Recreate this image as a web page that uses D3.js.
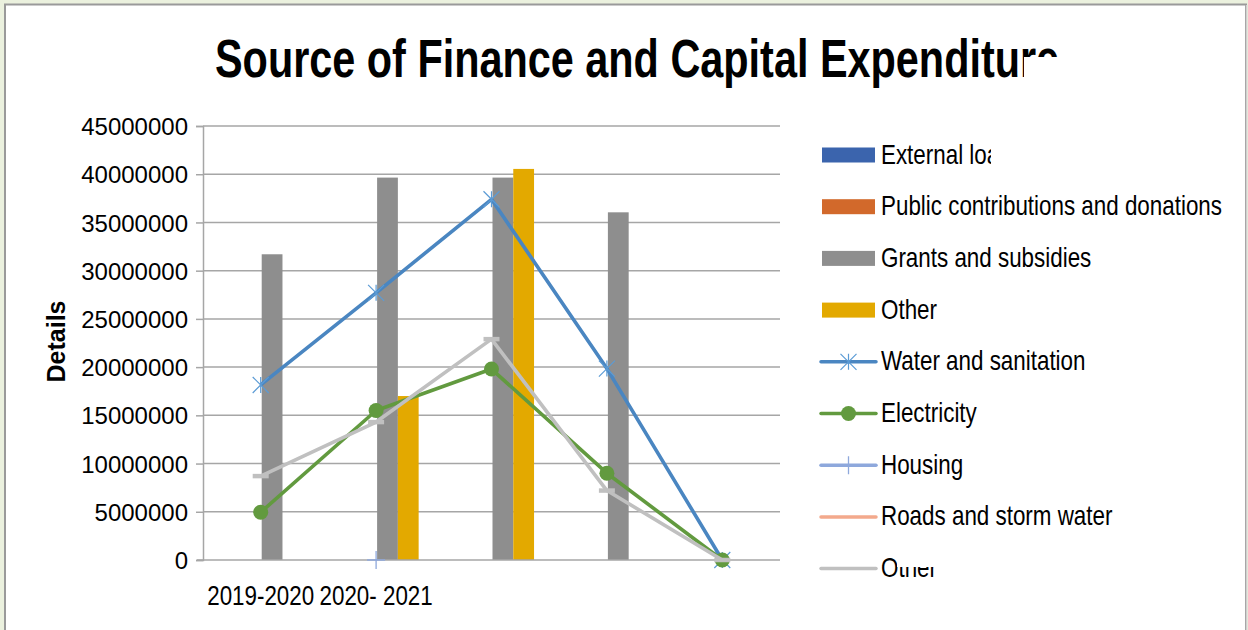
<!DOCTYPE html>
<html>
<head>
<meta charset="utf-8">
<script src="https://cdn.jsdelivr.net/npm/d3@7"></script>
<style>
  html, body { margin: 0; padding: 0; background: #ebf1de; }
  svg { display: block; }
  text { font-family: "Liberation Sans", Arial, sans-serif; fill: #000; }
</style>
</head>
<body>
<svg id="chart" width="1248" height="630"></svg>
<script>
// ---- data ----
const categories = ["2019-2020", "2020- 2021", "", "", ""];
const externalLoans = [0, 0, 0, 0, 0];
const publicContributions = [0, 0, 0, 0, 0];
const grantsSubsidies = [31700000, 39650000, 39650000, 36050000, 0];
const otherSource = [0, 17000000, 40550000, 0, 0];
const waterSanitation = [18150000, 27700000, 37400000, 19850000, 0];
const electricity = [4950000, 15500000, 19800000, 9000000, 0];
const housing = [null, 0, null, null, null];
const roadsStormWater = [null, null, null, null, null];
const otherExpenditure = [8700000, 14300000, 22900000, 7200000, 0];
const yTicks = [0, 5000000, 10000000, 15000000, 20000000, 25000000, 30000000, 35000000, 40000000, 45000000];
const titleText = "Source of Finance and Capital Expenditure";
const yAxisTitle = "Details";

const barSeries = [
  { name: "External loans", values: externalLoans, color: "#3b64ad" },
  { name: "Public contributions and donations", values: publicContributions, color: "#d2692b" },
  { name: "Grants and subsidies", values: grantsSubsidies, color: "#8e8e8e" },
  { name: "Other", values: otherSource, color: "#e3a900" }
];
const lineSeries = [
  { name: "Water and sanitation", values: waterSanitation, color: "#4a86c1", marker: "asterisk", mcolor: "#5b9bd5" },
  { name: "Electricity", values: electricity, color: "#629a3f", marker: "circle", mcolor: "#629a3f" },
  { name: "Housing", values: housing, color: "#8ea8dc", marker: "plus", mcolor: "#8ea8dc" },
  { name: "Roads and storm water", values: roadsStormWater, color: "#f3a98c", marker: "none", mcolor: "#f3a98c" },
  { name: "Other", values: otherExpenditure, color: "#c0c0c0", marker: "dash", mcolor: "#c0c0c0" }
];

// ---- layout ----
const svg = d3.select("#chart");
const plot = { left: 203, right: 780, top: 126, bottom: 560 };

// white panel with border
svg.append("rect").attr("x", 5).attr("y", 4.5).attr("width", 1241).attr("height", 640)
  .attr("fill", "#fff").attr("stroke", "#9a9a9a").attr("stroke-width", 2);
svg.append("line").attr("x1", 1246.5).attr("x2", 1246.5).attr("y1", 5).attr("y2", 630)
  .attr("stroke", "#d0d0d0").attr("stroke-width", 1.5);

const idx = d3.range(categories.length);
const x0 = d3.scaleBand().domain(idx).range([plot.left, plot.right]).padding(0);
const groupW = x0.bandwidth() * 0.72;
const x1 = d3.scaleBand().domain(barSeries.map(d => d.name)).range([-groupW / 2, groupW / 2]);
const y = d3.scaleLinear().domain([0, 45000000]).range([plot.bottom, plot.top]);

// gridlines
svg.append("g").selectAll("line").data(yTicks.filter(d => d > 0)).join("line")
  .attr("x1", plot.left).attr("x2", plot.right)
  .attr("y1", d => y(d)).attr("y2", d => y(d))
  .attr("stroke", "#a6a6a6").attr("stroke-width", 1.5);

// y axis
const yAxis = d3.axisLeft(y).tickValues(yTicks).tickSize(7).tickPadding(8).tickFormat(d => String(d));
const gy = svg.append("g").attr("transform", `translate(${plot.left},0)`).call(yAxis);
gy.select(".domain").attr("stroke", "#a6a6a6").attr("stroke-width", 1.5);
gy.selectAll(".tick line").attr("stroke", "#a6a6a6").attr("stroke-width", 1.5);
gy.selectAll(".tick text").attr("font-size", 24).attr("font-family", "Liberation Sans, Arial, sans-serif")
  .attr("fill", "#000").attr("dy", "0.36em").attr("x", -15);

// y axis title
svg.append("text").attr("transform", `translate(65,341.5) rotate(-90)`)
  .attr("text-anchor", "middle").attr("font-size", 25).attr("font-weight", "bold").text(yAxisTitle);

// bars
const barG = svg.append("g");
barSeries.forEach(s => {
  barG.append("g").selectAll("rect").data(idx).join("rect")
    .attr("x", i => x0(i) + x0.bandwidth() / 2 + x1(s.name) + 1)
    .attr("width", x1.bandwidth())
    .attr("y", i => y(s.values[i]))
    .attr("height", i => plot.bottom - y(s.values[i]))
    .attr("fill", s.color);
});

// x axis baseline
svg.append("line").attr("x1", plot.left - 6).attr("x2", plot.right)
  .attr("y1", plot.bottom).attr("y2", plot.bottom)
  .attr("stroke", "#a6a6a6").attr("stroke-width", 1.5);

// x axis labels
const xAxis = d3.axisBottom(x0).tickSize(0).tickPadding(0).tickFormat(i => categories[i]);
const gx = svg.append("g").attr("transform", `translate(0,${plot.bottom})`).call(xAxis);
gx.select(".domain").remove();
gx.selectAll(".tick text").attr("font-size", 28).attr("font-family", "Liberation Sans, Arial, sans-serif")
  .attr("fill", "#000").attr("dy", 0).attr("y", 45);

// lines
const cx = i => x0(i) + x0.bandwidth() / 2;
function drawMarker(g, type, px, py, color) {
  if (type === "asterisk") {
    const r = 8;
    g.append("path").attr("d", `M${px - r},${py - r}L${px + r},${py + r}M${px - r},${py + r}L${px + r},${py - r}M${px},${py - r}L${px},${py + r}`)
      .attr("stroke", color).attr("stroke-width", 1.2).attr("fill", "none");
  } else if (type === "circle") {
    g.append("circle").attr("cx", px).attr("cy", py).attr("r", 7.5).attr("fill", color);
  } else if (type === "plus") {
    const r = 9;
    g.append("path").attr("d", `M${px - r},${py}L${px + r},${py}M${px},${py - r}L${px},${py + r}`)
      .attr("stroke", color).attr("stroke-width", 1.3).attr("fill", "none");
  } else if (type === "dash") {
    g.append("line").attr("x1", px - 8).attr("x2", px + 8).attr("y1", py).attr("y2", py)
      .attr("stroke", color).attr("stroke-width", 4.5);
  }
}
const lineGen = d3.line().defined(d => d.v !== null).x(d => cx(d.i)).y(d => y(d.v));
const lineG = svg.append("g");
lineSeries.forEach(s => {
  const pts = idx.map(i => ({ i, v: s.values[i] }));
  lineG.append("path").datum(pts).attr("d", lineGen)
    .attr("fill", "none").attr("stroke", s.color).attr("stroke-width", 3.6)
    .attr("stroke-linejoin", "round");
  const mg = lineG.append("g");
  pts.filter(p => p.v !== null).forEach(p => drawMarker(mg, s.marker, cx(p.i), y(p.v), s.mcolor));
});

// title
const title = svg.append("text").attr("x", 215).attr("y", 77).attr("font-size", 53)
  .attr("font-weight", "bold").text(titleText);
{
  const probe = svg.append("text").attr("font-size", 53).attr("font-weight", "bold").text("Source of Finance and Capital Expenditu");
  const f = 805 / probe.node().getComputedTextLength();
  probe.remove();
  title.attr("textLength", title.node().getComputedTextLength() * f).attr("lengthAdjust", "spacingAndGlyphs");
}
svg.append("rect").attr("x", 1024).attr("y", 57).attr("width", 60).attr("height", 40).attr("fill", "#fff");

// legend
const legendItems = barSeries.map(s => ({ name: s.name, type: "bar", color: s.color }))
  .concat(lineSeries.map(s => ({ name: s.name, type: "line", color: s.color, marker: s.marker, mcolor: s.mcolor })));
const lg = svg.append("g");
let legendFactor;
{
  const probe = svg.append("text").attr("font-size", 28).text("Public contributions and donations");
  legendFactor = 341 / probe.node().getComputedTextLength();
  probe.remove();
}
svg.append("defs").append("clipPath").attr("id", "legclip")
  .append("rect").attr("x", 870).attr("y", 130).attr("width", 121).attr("height", 60);
legendItems.forEach((d, k) => {
  const cy = 155 + k * 51.7;
  const g = lg.append("g");
  if (d.type === "bar") {
    g.append("rect").attr("x", 822).attr("y", cy - 7.5).attr("width", 53).attr("height", 15).attr("fill", d.color);
  } else {
    g.append("line").attr("x1", 821).attr("x2", 876).attr("y1", cy).attr("y2", cy)
      .attr("stroke", d.color).attr("stroke-width", 3.5).attr("stroke-linecap", "round");
    drawMarker(g, d.marker === "dash" ? "none" : d.marker, 848.5, cy, d.mcolor);
  }
  const t = g.append("text").attr("x", 881).attr("y", cy + 8.5).attr("font-size", 28).text(d.name);
  t.attr("textLength", t.node().getComputedTextLength() * legendFactor).attr("lengthAdjust", "spacingAndGlyphs");
  if (k === 0) t.attr("clip-path", "url(#legclip)");
});
// partial cover over last legend label (as in reference)
svg.append("rect").attr("x", 897).attr("y", 548).attr("width", 50).attr("height", 19).attr("fill", "#fff");

// condense x labels
{
  const probe = svg.append("text").attr("font-size", 28).text("2019-2020");
  const f = 107 / probe.node().getComputedTextLength();
  probe.remove();
  gx.selectAll(".tick text").each(function () {
    const w = this.getComputedTextLength();
    if (w > 0) d3.select(this).attr("textLength", w * f).attr("lengthAdjust", "spacingAndGlyphs");
  });
}
</script>
</body>
</html>
